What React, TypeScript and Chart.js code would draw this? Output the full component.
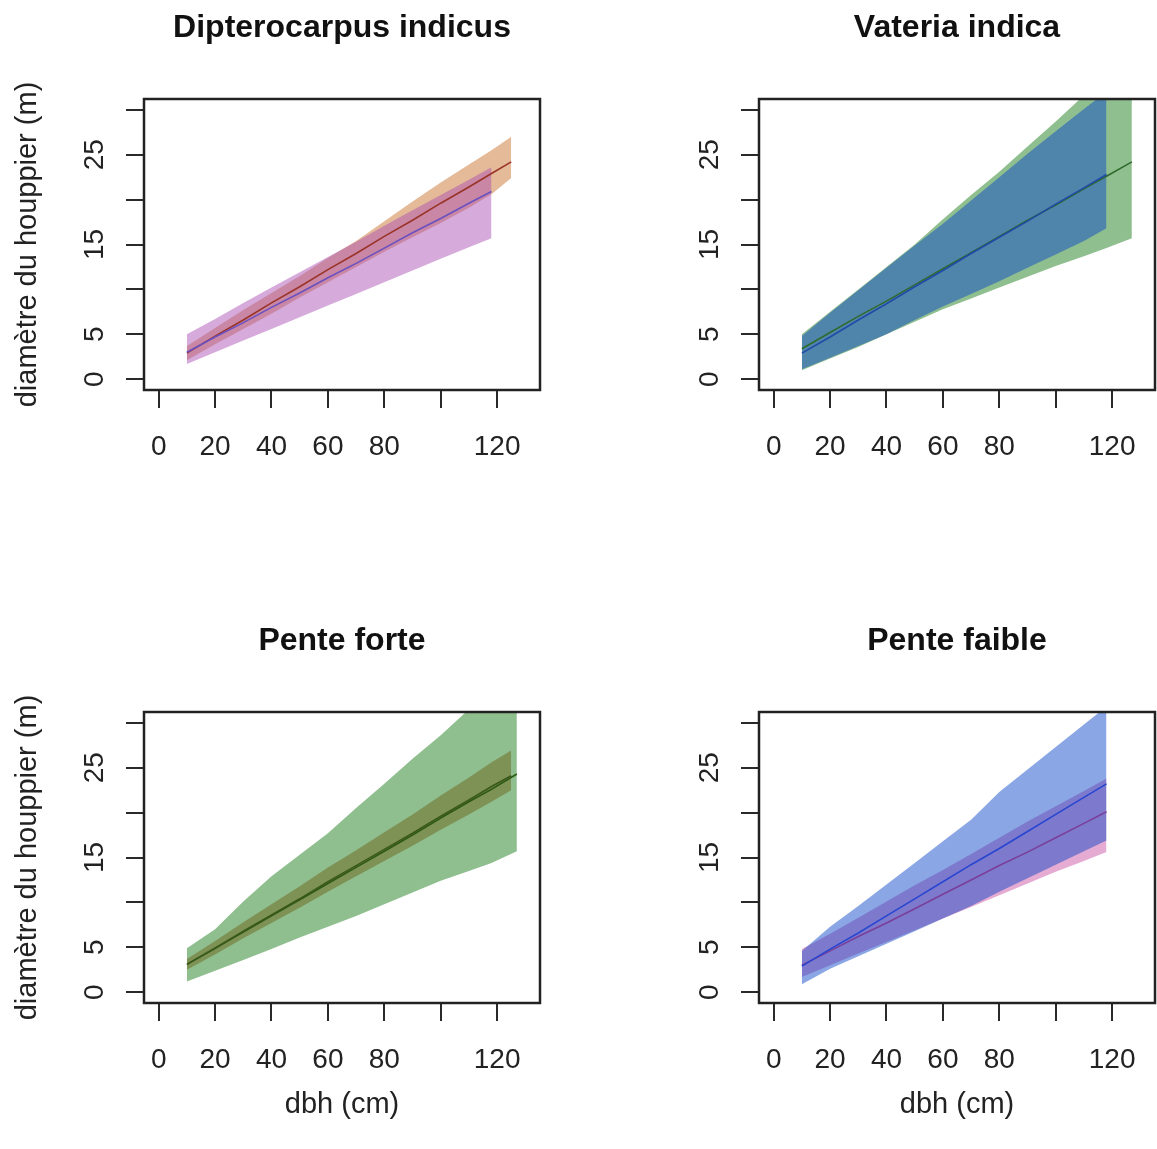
import React, { useEffect, useRef } from 'react';
import { Chart, registerables } from 'chart.js';

Chart.register(...registerables);

const FONT = "'Liberation Sans', Arial, Helvetica, sans-serif";

// Axes (same for the 4 panels)
const X_TICKS = [0, 20, 40, 60, 80, 100, 120];
const X_TICK_LABELS = ['0', '20', '40', '60', '80', '', '120'];
const Y_TICKS = [0, 5, 10, 15, 20, 25, 30];
const Y_TICK_LABELS = ['0', '5', '', '15', '', '25', ''];
const X_RANGE = [-5.2, 135.2];
const Y_RANGE = [-1.2, 31.2];
const Y_TITLE = 'diamètre du houppier (m)';
const X_TITLE = 'dbh (cm)';
const TITLES = ['Dipterocarpus indicus', 'Vateria indica', 'Pente forte', 'Pente faible'];

// Panel 1 — Dipterocarpus indicus
const dipAllDbh = [10, 20, 30, 40, 50, 60, 70, 80, 90, 100, 110, 118, 125];
const dipAllMean = [2.9, 4.8, 6.6, 8.5, 10.3, 12.2, 14.0, 15.9, 17.7, 19.6, 21.4, 22.9, 24.2];
const dipAllUpper = [3.7, 5.7, 7.7, 9.6, 11.5, 13.5, 15.4, 17.6, 19.8, 21.9, 23.9, 25.5, 27.0];
const dipAllLower = [2.1, 3.9, 5.6, 7.3, 9.1, 10.8, 12.5, 14.2, 15.8, 17.4, 19.1, 20.6, 22.4];
const dipSpDbh = [10, 20, 30, 40, 50, 60, 70, 80, 90, 100, 110, 118];
const dipSpMean = [3.0, 4.7, 6.3, 8.0, 9.6, 11.3, 12.9, 14.6, 16.3, 17.9, 19.6, 20.9];
const dipSpUpper = [5.0, 6.7, 8.5, 10.2, 11.9, 13.6, 15.3, 17.1, 18.8, 20.5, 22.2, 23.6];
const dipSpLower = [1.7, 3.0, 4.3, 5.6, 6.9, 8.2, 9.5, 10.8, 12.1, 13.4, 14.7, 15.7];

// Panel 2 — Vateria indica
const vatAllDbh = [10, 20, 30, 40, 50, 60, 70, 80, 90, 100, 110, 118, 127];
const vatAllMean = [3.4, 5.2, 7.0, 8.7, 10.5, 12.3, 14.1, 15.9, 17.7, 19.4, 21.2, 22.6, 24.2];
const vatAllUpper = [5.0, 7.5, 10.0, 12.5, 15.0, 17.8, 20.5, 23.1, 25.9, 28.7, 31.6, 33.9, 36.5];
const vatAllLower = [1.0, 2.3, 3.6, 5.0, 6.4, 7.8, 9.0, 10.2, 11.4, 12.6, 13.7, 14.6, 15.7];
const vatSpDbh = [10, 20, 30, 40, 50, 60, 70, 80, 90, 100, 110, 118];
const vatSpMean = [2.9, 4.7, 6.6, 8.4, 10.3, 12.1, 14.0, 15.8, 17.6, 19.5, 21.3, 22.8];
const vatSpUpper = [4.8, 7.4, 9.9, 12.4, 14.9, 17.3, 19.9, 22.5, 25.1, 27.6, 30.1, 32.0];
const vatSpLower = [1.1, 2.4, 3.7, 5.0, 6.6, 8.1, 9.5, 10.9, 12.4, 13.9, 15.4, 16.8];

// Panel 3 — Pente forte
const forteAllDbh = [10, 20, 30, 40, 50, 60, 70, 80, 90, 100, 110, 118, 127];
const forteAllMean = [3.1, 4.9, 6.7, 8.5, 10.3, 12.1, 13.9, 15.7, 17.5, 19.4, 21.2, 22.6, 24.3];
const forteAllUpper = [4.9, 7.0, 10.1, 12.9, 15.3, 17.7, 20.5, 23.2, 26.0, 28.6, 31.5, 33.8, 36.3];
const forteAllLower = [1.2, 2.4, 3.6, 4.8, 6.1, 7.3, 8.5, 9.8, 11.1, 12.4, 13.5, 14.4, 15.7];
const forteSpDbh = [10, 20, 30, 40, 50, 60, 70, 80, 90, 100, 110, 118, 125];
const forteSpMean = [3.1, 4.9, 6.8, 8.6, 10.4, 12.3, 14.1, 15.9, 17.7, 19.6, 21.4, 22.9, 24.1];
const forteSpUpper = [3.7, 5.7, 7.8, 9.8, 11.8, 13.9, 15.8, 17.8, 19.8, 21.9, 23.9, 25.6, 26.9];
const forteSpLower = [2.5, 4.2, 6.0, 7.7, 9.4, 11.2, 12.9, 14.6, 16.3, 18.1, 19.8, 21.2, 22.5];

// Panel 4 — Pente faible
const faibleDbh = [10, 20, 30, 40, 50, 60, 70, 80, 90, 100, 110, 118];
const faiblePinkMean = [3.0, 4.6, 6.2, 7.7, 9.3, 10.9, 12.5, 14.1, 15.6, 17.2, 18.8, 20.1];
const faiblePinkUpper = [4.8, 6.5, 8.3, 10.1, 11.9, 13.6, 15.4, 17.2, 19.0, 20.7, 22.4, 23.8];
const faiblePinkLower = [1.7, 3.0, 4.3, 5.6, 6.9, 8.2, 9.5, 10.8, 12.1, 13.4, 14.6, 15.6];
const faibleBlueMean = [2.9, 4.8, 6.6, 8.5, 10.4, 12.3, 14.2, 16.0, 17.9, 19.8, 21.7, 23.2];
const faibleBlueUpper = [4.6, 7.3, 9.6, 12.0, 14.4, 16.8, 19.2, 22.3, 24.8, 27.3, 29.8, 31.8];
const faibleBlueLower = [0.9, 2.6, 4.0, 5.4, 6.8, 8.2, 9.6, 11.2, 12.7, 14.2, 15.7, 16.9];

type Band = { x: number[]; upper: number[]; lower: number[]; mean: number[]; fill: string; line: string };
type PanelCfg = { title: string; yTitle: boolean; xTitle: boolean; bands: Band[] };

const PANELS: PanelCfg[] = [
  {
    title: TITLES[0], yTitle: true, xTitle: false,
    bands: [
      { x: dipAllDbh, upper: dipAllUpper, lower: dipAllLower, mean: dipAllMean, fill: 'rgba(200,110,40,0.48)', line: '#9a3328' },
      { x: dipSpDbh, upper: dipSpUpper, lower: dipSpLower, mean: dipSpMean, fill: 'rgba(170,80,180,0.48)', line: '#6a50c0' },
    ],
  },
  {
    title: TITLES[1], yTitle: false, xTitle: false,
    bands: [
      { x: vatAllDbh, upper: vatAllUpper, lower: vatAllLower, mean: vatAllMean, fill: 'rgba(0,110,0,0.44)', line: '#2f6b2f' },
      { x: vatSpDbh, upper: vatSpUpper, lower: vatSpLower, mean: vatSpMean, fill: 'rgba(10,70,200,0.48)', line: '#1f4aa8' },
    ],
  },
  {
    title: TITLES[2], yTitle: true, xTitle: true,
    bands: [
      { x: forteAllDbh, upper: forteAllUpper, lower: forteAllLower, mean: forteAllMean, fill: 'rgba(0,110,0,0.44)', line: '#2e5a16' },
      { x: forteSpDbh, upper: forteSpUpper, lower: forteSpLower, mean: forteSpMean, fill: 'rgba(100,80,0,0.4)', line: '#3b5a1a' },
    ],
  },
  {
    title: TITLES[3], yTitle: false, xTitle: true,
    bands: [
      { x: faibleDbh, upper: faiblePinkUpper, lower: faiblePinkLower, mean: faiblePinkMean, fill: 'rgba(200,80,160,0.48)', line: '#7a3f9a' },
      { x: faibleDbh, upper: faibleBlueUpper, lower: faibleBlueLower, mean: faibleBlueMean, fill: 'rgba(10,70,200,0.48)', line: '#2846d0' },
    ],
  },
];

const pts = (xs: number[], ys: number[]) => xs.map((x, i) => ({ x, y: ys[i] }));

const boxPlugin = {
  id: 'rbox',
  afterDraw(chart: any) {
    const { ctx, chartArea: a } = chart;
    ctx.save();
    ctx.strokeStyle = '#222';
    ctx.lineWidth = 2.5;
    ctx.strokeRect(a.left, a.top, a.right - a.left, a.bottom - a.top);
    ctx.restore();
  },
};

function buildConfig(p: PanelCfg): any {
  const n = p.bands.length;
  const datasets: any[] = [];
  p.bands.forEach((b, i) => {
    const order = 10 + (n - i);
    datasets.push({
      data: pts(b.x, b.upper), fill: '+1', backgroundColor: b.fill,
      borderWidth: 0, pointRadius: 0, tension: 0, order,
    });
    datasets.push({
      data: pts(b.x, b.lower), fill: false, backgroundColor: b.fill,
      borderWidth: 0, pointRadius: 0, tension: 0, order,
    });
  });
  p.bands.forEach((b, i) => {
    datasets.push({
      data: pts(b.x, b.mean), fill: false, borderColor: b.line,
      borderWidth: 1.6, pointRadius: 0, tension: 0, order: n - i,
    });
  });

  const tickFont = { family: FONT, size: 28, lineHeight: 1.2 };
  const titleFont = { family: FONT, size: 29, lineHeight: 1.2 };
  const grid = { drawOnChartArea: false, drawTicks: true, tickLength: 18, color: '#2a2a2a', lineWidth: 2 };

  return {
    type: 'line',
    data: { datasets },
    options: {
      responsive: false,
      animation: false,
      events: [],
      layout: { padding: { left: 0, top: 0, right: 75, bottom: 94 } },
      plugins: {
        legend: { display: false },
        tooltip: { enabled: false },
        title: {
          display: true, text: p.title, fullSize: false, color: '#111',
          font: { family: FONT, size: 32, weight: 'bold', lineHeight: 1.2 },
          padding: { top: 8.8, bottom: 51.8 },
        },
      },
      scales: {
        x: {
          type: 'linear', min: X_RANGE[0], max: X_RANGE[1],
          afterBuildTicks: (s: any) => { s.ticks = X_TICKS.map((v) => ({ value: v })); },
          afterFit: (s: any) => { s.height = 130; },
          ticks: {
            callback: (v: any) => { const k = X_TICKS.indexOf(Number(v)); return k >= 0 ? X_TICK_LABELS[k] : ''; },
            font: tickFont, color: '#222', padding: 22.2, maxRotation: 0, minRotation: 0, autoSkip: false,
          },
          grid,
          border: { display: false },
          title: { display: p.xTitle, text: X_TITLE, font: titleFont, color: '#222', padding: { top: 0, bottom: 10.6 } },
        },
        y: {
          type: 'linear', min: Y_RANGE[0], max: Y_RANGE[1],
          afterBuildTicks: (s: any) => { s.ticks = Y_TICKS.map((v) => ({ value: v })); },
          afterFit: (s: any) => { s.width = 144; },
          ticks: {
            callback: (v: any) => { const k = Y_TICKS.indexOf(Number(v)); return k >= 0 ? Y_TICK_LABELS[k] : ''; },
            font: tickFont, color: '#222', padding: 15.4, minRotation: 90, maxRotation: 90,
            autoSkip: false, crossAlign: 'center',
          },
          grid,
          border: { display: false },
          title: { display: p.yTitle, text: Y_TITLE, font: titleFont, color: '#222', padding: { top: 10.6, bottom: 0 } },
        },
      },
    },
    plugins: [boxPlugin],
  };
}

function Panel({ cfg, left, top }: { cfg: PanelCfg; left: number; top: number }) {
  const ref = useRef<HTMLCanvasElement>(null);
  useEffect(() => {
    const chart = new Chart(ref.current as HTMLCanvasElement, buildConfig(cfg));
    return () => chart.destroy();
  }, [cfg]);
  return (
    <canvas
      ref={ref}
      width={615}
      height={614}
      style={{ position: 'absolute', left, top, width: 615, height: 614 }}
    />
  );
}

export default function App() {
  return (
    <div
      style={{
        position: 'fixed', left: 0, top: 0, width: 1157, height: 1149,
        overflow: 'hidden', background: '#ffffff',
      }}
    >
      {PANELS.map((p, i) => (
        <Panel key={i} cfg={p} left={(i % 2) * 615} top={Math.floor(i / 2) * 613} />
      ))}
    </div>
  );
}
